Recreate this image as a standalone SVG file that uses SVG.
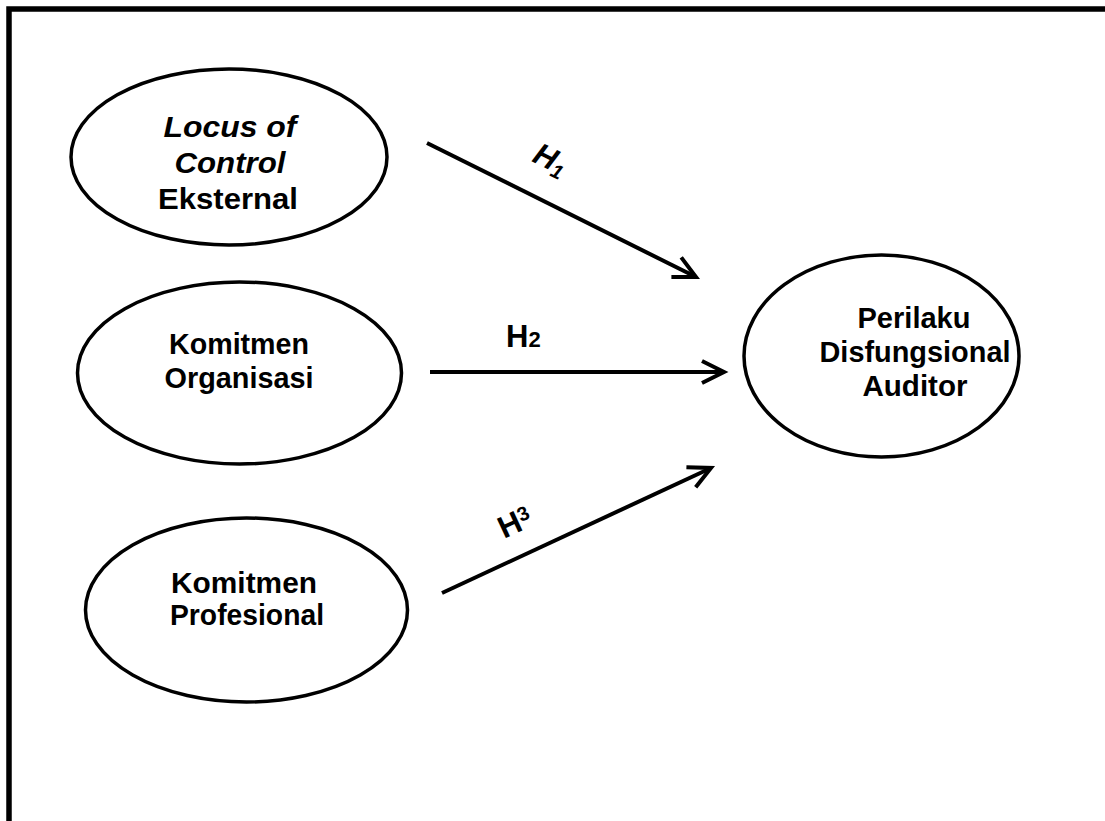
<svg xmlns="http://www.w3.org/2000/svg" width="1105" height="821" viewBox="0 0 1105 821">
<defs>
<style>
.node{fill:#fff;stroke:#000;stroke-width:3.5}
.t{font-family:"Liberation Sans",Arial,sans-serif;font-weight:bold;font-size:29px;fill:#000;text-anchor:middle}
.it{font-style:italic}
.edge{stroke:#000;stroke-width:4;fill:none}
.lab{font-family:"Liberation Sans",Arial,sans-serif;font-weight:bold;font-size:31px;fill:#000}
</style>
<marker id="arr" markerUnits="userSpaceOnUse" markerWidth="40" markerHeight="40" viewBox="-30 -20 40 40" refX="0" refY="0" orient="auto" overflow="visible">
<path d="M-22,-11 L0,0 L-22,11" fill="none" stroke="#000" stroke-width="4" stroke-linejoin="miter" stroke-linecap="butt"/>
</marker>
</defs>
<rect width="1105" height="821" fill="#fff"/>
<path d="M9,821 V9 H1105" fill="none" stroke="#000" stroke-width="5.5"/>

<g id="connectors">
<line class="edge" x1="427" y1="143" x2="696" y2="277" marker-end="url(#arr)"/>
<line class="edge" x1="430" y1="372" x2="724" y2="372" marker-end="url(#arr)"/>
<line class="edge" x1="442" y1="593" x2="711" y2="468" marker-end="url(#arr)"/>
<text class="lab it" transform="translate(531,161) rotate(26)">H<tspan font-size="20" dy="5">1</tspan></text>
<text class="lab" x="506" y="347">H<tspan font-size="22">2</tspan></text>
<text class="lab" transform="translate(504,539) rotate(-25)">H<tspan font-size="20" dy="-8">3</tspan></text>
</g>

<g id="node-locus">
<ellipse class="node" cx="229" cy="157" rx="158" ry="88"/>
<text class="t it" x="230" y="137" textLength="133" lengthAdjust="spacingAndGlyphs">Locus of</text>
<text class="t it" x="230" y="173" textLength="111" lengthAdjust="spacingAndGlyphs">Control</text>
<text class="t" x="228" y="209" textLength="140" lengthAdjust="spacingAndGlyphs">Eksternal</text>
</g>

<g id="node-organisasi">
<ellipse class="node" cx="239.5" cy="373" rx="162" ry="91"/>
<text class="t" x="239" y="354" textLength="140" lengthAdjust="spacingAndGlyphs">Komitmen</text>
<text class="t" x="239" y="388" textLength="149" lengthAdjust="spacingAndGlyphs">Organisasi</text>
</g>

<g id="node-profesional">
<ellipse class="node" cx="246.5" cy="610" rx="161" ry="92"/>
<text class="t" x="244" y="593" textLength="146" lengthAdjust="spacingAndGlyphs">Komitmen</text>
<text class="t" x="247" y="625" textLength="154" lengthAdjust="spacingAndGlyphs">Profesional</text>
</g>

<g id="node-perilaku">
<ellipse class="node" cx="881.5" cy="356" rx="137.5" ry="101"/>
<text class="t" x="914" y="328" textLength="113" lengthAdjust="spacingAndGlyphs">Perilaku</text>
<text class="t" x="915" y="362" textLength="191" lengthAdjust="spacingAndGlyphs">Disfungsional</text>
<text class="t" x="915" y="396" textLength="105" lengthAdjust="spacingAndGlyphs">Auditor</text>
</g>
</svg>
